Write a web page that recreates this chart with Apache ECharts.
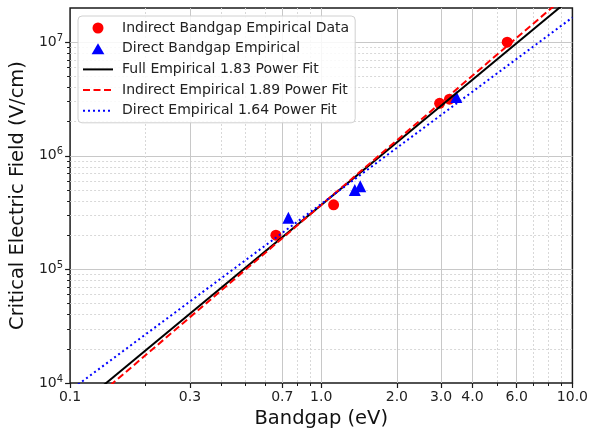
<!DOCTYPE html>
<html><head><meta charset="utf-8">
<script src="https://cdn.jsdelivr.net/npm/echarts@6/dist/echarts.min.js"></script>
<style>html,body{margin:0;padding:0;background:#fff}#c{width:591px;height:435px}</style>
</head><body><div id="c"></div>
<script>
// ---- data ----
const indirectX = [0.66, 1.12, 2.96, 3.24, 5.5];
const indirectY = [2.0e5, 3.7e5, 2.9e6, 3.15e6, 1.0e7];
const directX = [0.74, 1.36, 1.43, 3.45];
const directY = [2.85e5, 5.0e5, 5.4e5, 3.3e6];
const fullFitX = [0.1, 10];
const fullFitY = [5.45e3, 2.5e7];
const indirectFitX = [0.1, 10];
const indirectFitY = [4.75e3, 2.87e7];
const directFitX = [0.1, 10];
const directFitY = [8.6e3, 1.65e7];
const xTicks = [0.1, 0.3, 0.7, 1, 2, 3, 4, 6, 10];
const xTickLabels = ['0.1', '0.3', '0.7', '1.0', '2.0', '3.0', '4.0', '6.0', '10.0'];
const xMinor = [0.2, 0.4, 0.5, 0.6, 0.8, 0.9, 5, 7, 8, 9];
const yTicks = [1e4, 1e5, 1e6, 1e7];
const yTickExp = ['4', '5', '6', '7'];
const yMinor = [2e4, 3e4, 4e4, 5e4, 6e4, 7e4, 8e4, 9e4,
                2e5, 3e5, 4e5, 5e5, 6e5, 7e5, 8e5, 9e5,
                2e6, 3e6, 4e6, 5e6, 6e6, 7e6, 8e6, 9e6];
const names = ['Indirect Bandgap Empirical Data', 'Direct Bandgap Empirical',
  'Full Empirical 1.83 Power Fit', 'Indirect Empirical 1.89 Power Fit', 'Direct Empirical 1.64 Power Fit'];

function nearestIdx(arr, v) {
  let best = 0, bd = Infinity;
  arr.forEach((a, i) => { const d = Math.abs(Math.log(a) - Math.log(v)); if (d < bd) { bd = d; best = i; } });
  return best;
}
const zip = (xs, ys) => xs.map((x, i) => [x, ys[i]]);
const FONT = 'DejaVu Sans';
const XMIN = 0.1, XMAX = 10, YMIN = 1e4, YMAX = 2e7;
const inner = (arr, lo, hi) => arr.filter(v => v > lo && v < hi);
const TRI = 'path://M0,10L5.8,0L11.6,10Z';

const hiddenAxis = (type, extra) => Object.assign({
  type: 'log', logBase: 10, axisLine: {show: false}, axisLabel: {show: false}
}, extra);

const chart = echarts.init(document.getElementById('c'), null, {renderer: 'canvas'});
chart.setOption({
  animation: false,
  backgroundColor: '#fff',
  textStyle: {fontFamily: FONT},
  grid: {left: 70, right: 18, top: 8, bottom: 52, show: true, borderColor: '#1a1a1a', borderWidth: 1.5, backgroundColor: 'transparent'},
  legend: {
    orient: 'vertical', left: 78, top: 16,
    padding: [5, 6, 5, 4],
    itemWidth: 30, itemHeight: 11, itemGap: 6.7,
    symbolKeepAspect: true,
    backgroundColor: 'rgba(255,255,255,0.85)',
    borderColor: '#d0d0d0', borderWidth: 1, borderRadius: 4,
    textStyle: {fontFamily: FONT, fontSize: 14, color: '#222', padding: [0, 0, 0, 4]},
    data: [
      {name: names[0], icon: 'circle'},
      {name: names[1], icon: TRI},
      {name: names[2], itemStyle: {opacity: 0}},
      {name: names[3], itemStyle: {opacity: 0}},
      {name: names[4], itemStyle: {opacity: 0}}
    ]
  },
  xAxis: [{
    type: 'log', min: XMIN, max: XMAX, logBase: 10,
    name: 'Bandgap (eV)', nameLocation: 'middle', nameGap: 23,
    nameTextStyle: {fontFamily: FONT, fontSize: 19.5, color: '#111'},
    axisLine: {show: false},
    axisTick: {show: true, inside: false, length: 5, customValues: xTicks, lineStyle: {color: '#1a1a1a', width: 1.2}},
    axisLabel: {customValues: xTicks, fontFamily: FONT, fontSize: 14, color: '#222', margin: 7,
      formatter: v => xTickLabels[nearestIdx(xTicks, v)]},
    splitLine: {show: false},
    minorTick: {show: false}
  }, hiddenAxis('x', {
    min: XMIN, max: XMAX, position: 'bottom',
    axisTick: {show: true, inside: false, length: 3, customValues: xMinor, lineStyle: {color: '#1a1a1a', width: 1}},
    splitLine: {show: true, lineStyle: {color: '#d8d8d8', width: 1, type: [2, 2]}}
  }), hiddenAxis('x', {
    min: XMIN, max: XMAX, position: 'bottom',
    axisTick: {show: false, customValues: inner(xTicks, XMIN, XMAX)},
    splitLine: {show: true, lineStyle: {color: '#c8c8c8', width: 1, type: 'solid'}}
  })],
  yAxis: [{
    type: 'log', min: YMIN, max: YMAX, logBase: 10,
    name: 'Critical Electric Field (V/cm)', nameLocation: 'middle', nameGap: 42,
    nameTextStyle: {fontFamily: FONT, fontSize: 19.5, color: '#111'},
    axisLine: {show: false},
    axisTick: {show: true, inside: false, length: 5, customValues: yTicks, lineStyle: {color: '#1a1a1a', width: 1.2}},
    axisLabel: {customValues: yTicks, fontFamily: FONT, fontSize: 14, color: '#222', margin: 7,
      formatter: v => '10{s|' + yTickExp[nearestIdx(yTicks, v)] + '}',
      rich: {s: {fontFamily: FONT, fontSize: 10, color: '#222', verticalAlign: 'top', padding: [0, 0, 8, 0]}}},
    splitLine: {show: false}
  }, hiddenAxis('y', {
    min: YMIN, max: YMAX, position: 'left',
    axisTick: {show: true, inside: false, length: 3, customValues: yMinor, lineStyle: {color: '#1a1a1a', width: 1}},
    splitLine: {show: true, lineStyle: {color: '#d8d8d8', width: 1, type: [2, 2]}}
  }), hiddenAxis('y', {
    min: YMIN, max: YMAX, position: 'left',
    axisTick: {show: false, customValues: inner(yTicks, YMIN, YMAX)},
    splitLine: {show: true, lineStyle: {color: '#c8c8c8', width: 1, type: 'solid'}}
  })],
  series: [
    {name: names[0], type: 'scatter', xAxisIndex: 0, yAxisIndex: 0, symbol: 'circle', symbolSize: 11,
     itemStyle: {color: '#ff0000', opacity: 1}, data: zip(indirectX, indirectY), z: 3},
    {name: names[1], type: 'scatter', xAxisIndex: 0, yAxisIndex: 0, symbol: 'triangle', symbolSize: 12,
     itemStyle: {color: '#0000ff', opacity: 1}, data: zip(directX, directY), z: 3},
    {name: names[2], type: 'line', xAxisIndex: 0, yAxisIndex: 0, symbol: 'none', showSymbol: false, clip: true,
     lineStyle: {color: '#000', width: 2, type: 'solid'}, itemStyle: {color: '#000'}, data: zip(fullFitX, fullFitY), z: 4},
    {name: names[3], type: 'line', xAxisIndex: 0, yAxisIndex: 0, symbol: 'none', showSymbol: false, clip: true,
     lineStyle: {color: '#ff0000', width: 2, type: [7, 3.5]}, itemStyle: {color: '#ff0000'}, data: zip(indirectFitX, indirectFitY), z: 4},
    {name: names[4], type: 'line', xAxisIndex: 0, yAxisIndex: 0, symbol: 'none', showSymbol: false, clip: true,
     lineStyle: {color: '#0000ff', width: 2, type: [2, 3]}, itemStyle: {color: '#0000ff'}, data: zip(directFitX, directFitY), z: 4}
  ]
});
</script></body></html>
